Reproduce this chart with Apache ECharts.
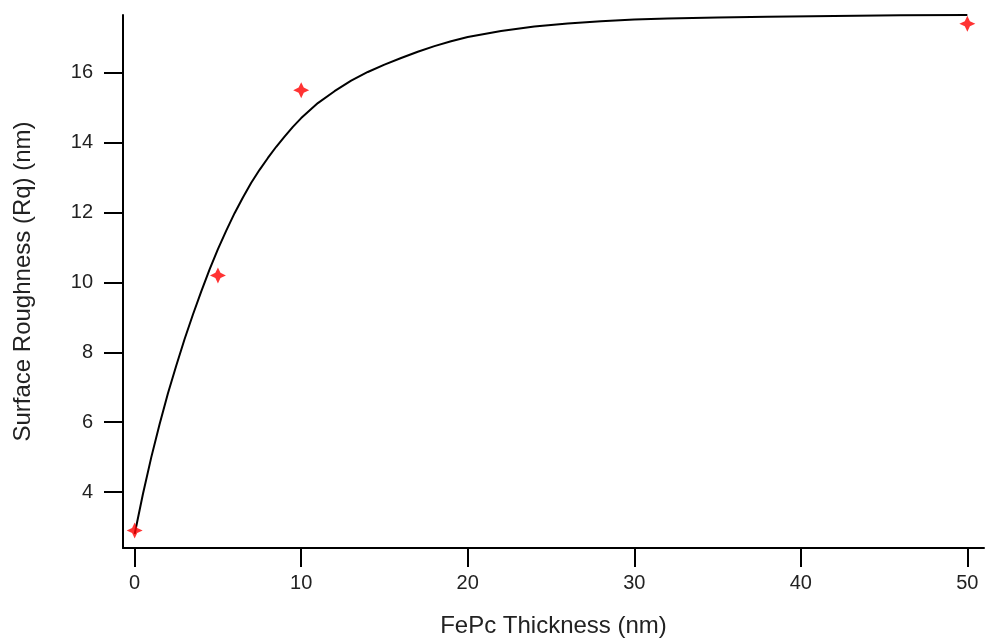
<!DOCTYPE html>
<html>
<head>
<meta charset="utf-8">
<script src="https://cdn.jsdelivr.net/npm/echarts@6/dist/echarts.min.js"></script>
<style>
  html, body { margin: 0; padding: 0; background: #fff; }
  #chart { width: 986px; height: 643px; }
</style>
</head>
<body>
<div id="chart"></div>
<script>
// measured points
var thickness = [0, 5, 10, 50];
var roughness = [2.9, 10.2, 15.5, 17.4];

// fitted curve
var fitX = [0, 0.5, 1, 1.5, 2, 2.5, 3, 3.5, 4, 4.5, 5, 5.5, 6, 6.5, 7, 7.5, 8, 8.5, 9, 9.5, 10,
            11, 12, 13, 14, 15, 16, 17, 18, 19, 20, 22, 24, 26, 28, 30, 32, 35, 38, 42, 46, 50];
var fitY = [2.8, 3.95, 5.0, 5.95, 6.83, 7.62, 8.38, 9.08, 9.74, 10.37, 10.95, 11.48, 11.98, 12.43, 12.85, 13.22, 13.56, 13.88, 14.17, 14.45, 14.7,
            15.13, 15.47, 15.77, 16.02, 16.23, 16.42, 16.6, 16.76, 16.9, 17.02, 17.19, 17.32, 17.41, 17.47, 17.52, 17.55, 17.58, 17.6, 17.62, 17.64, 17.65];

var xTicks = [0, 10, 20, 30, 40, 50];
var yTicks = [4, 6, 8, 10, 12, 14, 16];

var myChart = echarts.init(document.getElementById('chart'));

var pairs = function (xs, ys) {
    return xs.map(function (x, i) { return [x, ys[i]]; });
};

// 4-point star marker
var star = 'path://M0,-10 L3.2,-3.2 L10,0 L3.2,3.2 L0,10 L-3.2,3.2 L-10,0 L-3.2,-3.2 Z';

var axisFont = 'Liberation Sans, Arial, sans-serif';

var option = {
    animation: false,
    backgroundColor: '#fff',
    grid: {
        left: 123,
        right: 2,
        top: 15,
        bottom: 93
    },
    xAxis: {
        type: 'value',
        min: -0.7,
        max: 51,
        name: 'FePc Thickness (nm)',
        nameLocation: 'middle',
        nameGap: 66,
        nameTextStyle: { fontSize: 24, color: '#222', fontFamily: axisFont },
        axisLine: { show: true, onZero: false, lineStyle: { color: '#000', width: 2 } },
        axisTick: { show: true, length: 19, inside: false, customValues: xTicks, lineStyle: { color: '#000', width: 2 } },
        axisLabel: { customValues: xTicks, margin: 25, fontSize: 20, color: '#222', fontFamily: axisFont },
        splitLine: { show: false }
    },
    yAxis: {
        type: 'value',
        min: 2.4,
        max: 17.65,
        name: 'Surface Roughness (Rq) (nm)',
        nameLocation: 'middle',
        nameGap: 88,
        nameTextStyle: { fontSize: 24, color: '#222', fontFamily: axisFont },
        axisLine: { show: true, onZero: false, lineStyle: { color: '#000', width: 2 } },
        axisTick: { show: true, length: 19, inside: false, customValues: yTicks, lineStyle: { color: '#000', width: 2 } },
        axisLabel: { customValues: yTicks, margin: 30, fontSize: 20, color: '#222', fontFamily: axisFont },
        splitLine: { show: false }
    },
    series: [
        {
            name: 'fit',
            type: 'line',
            data: pairs(fitX, fitY),
            showSymbol: false,
            smooth: false,
            lineStyle: { color: '#000', width: 2 },
            z: 2
        },
        {
            name: 'data',
            type: 'scatter',
            data: pairs(thickness, roughness),
            symbol: star,
            symbolSize: 16,
            itemStyle: { color: '#ff0000' },
            z: 3
        }
    ]
};

myChart.setOption(option);
</script>
</body>
</html>
